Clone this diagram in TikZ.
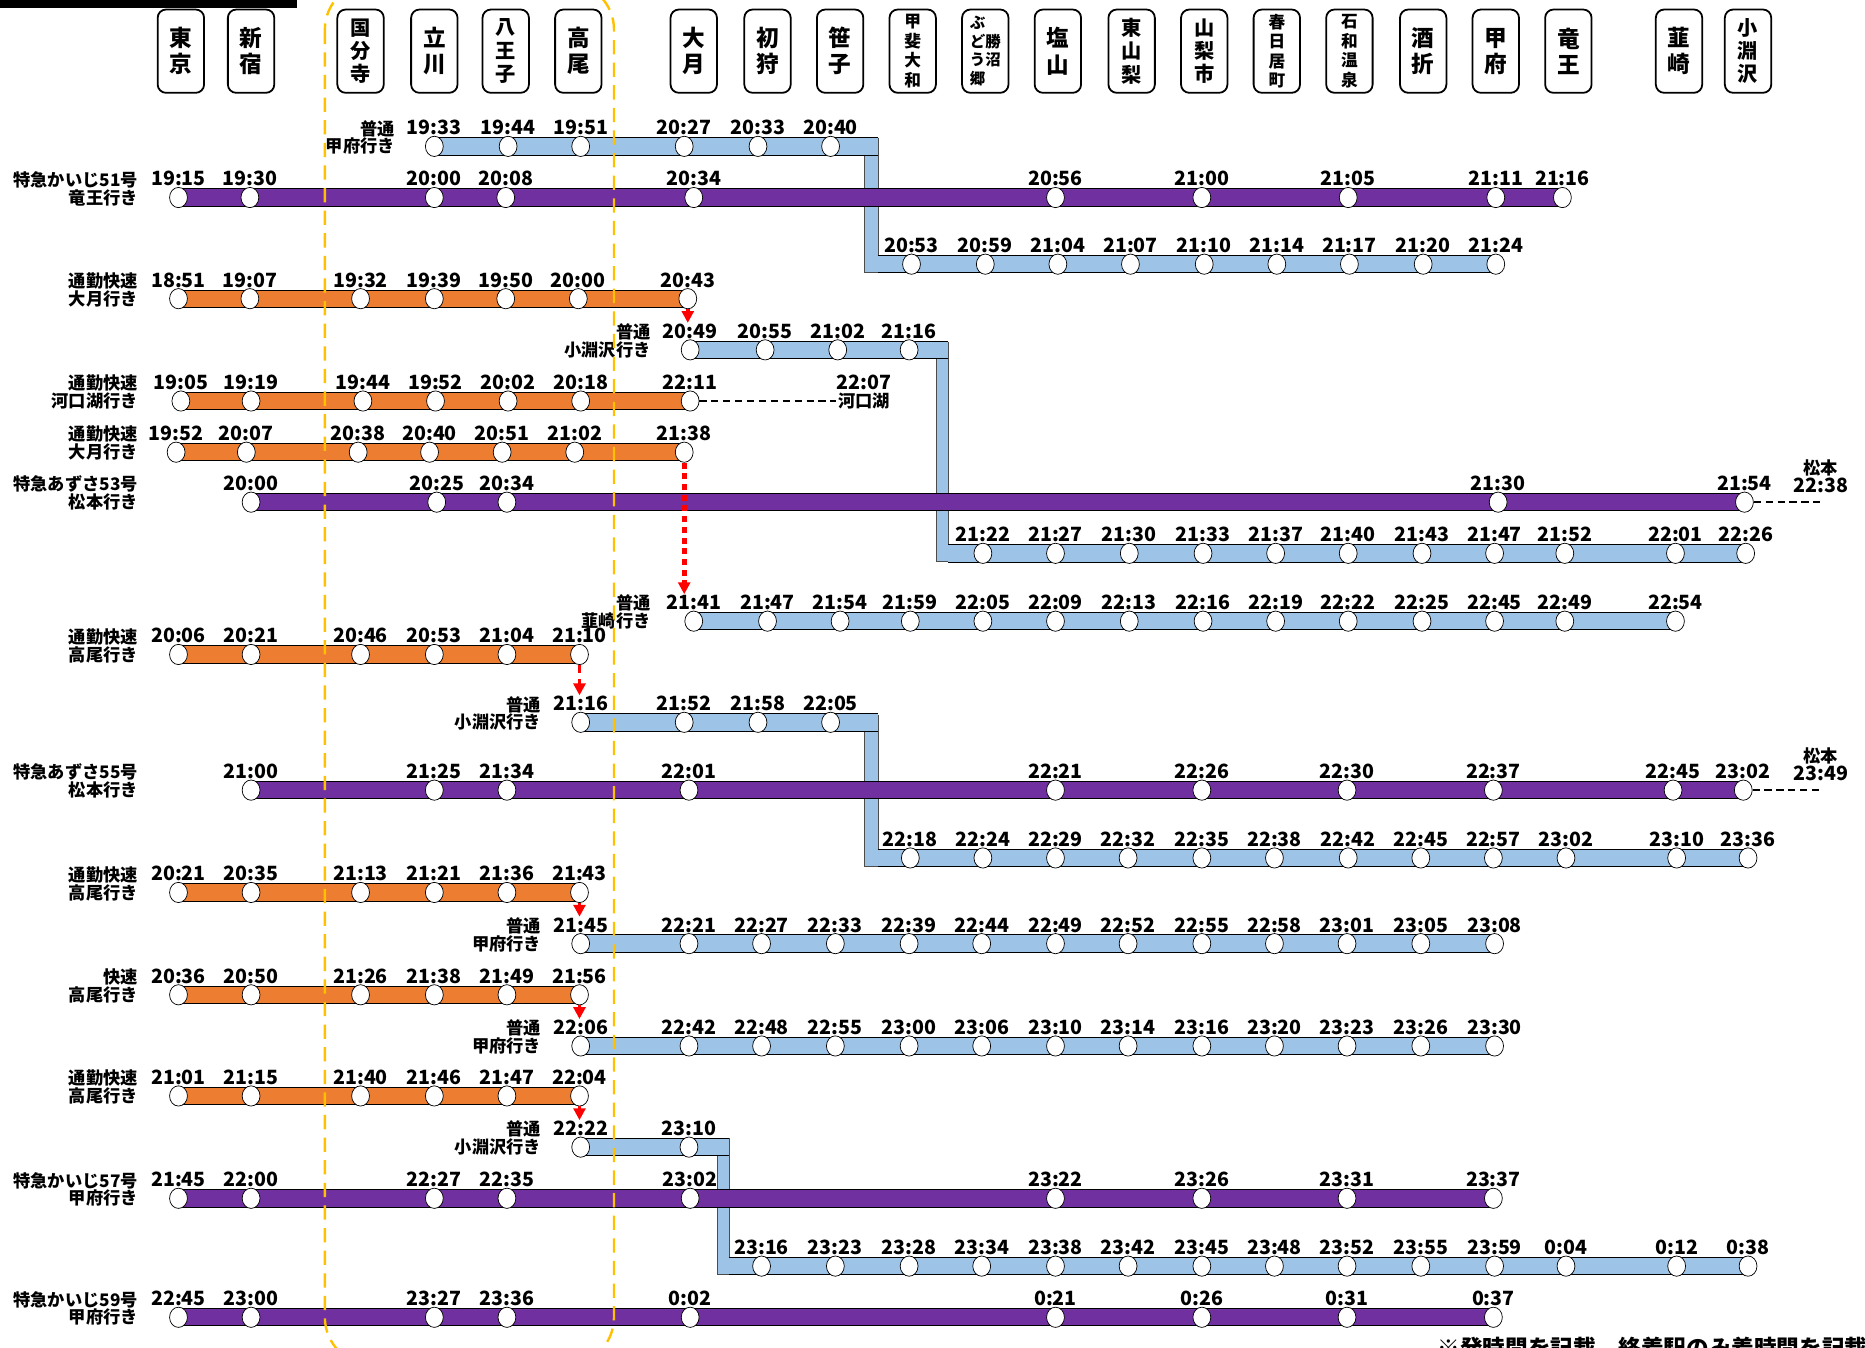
\documentclass[tikz,border=0pt]{standalone}
\usepackage{fontspec}
\setmainfont{Noto Sans CJK JP}
\usetikzlibrary{shapes.geometric,arrows.meta,backgrounds}
\definecolor{kaiji}{HTML}{7030A0}
\definecolor{rapid}{HTML}{ED7D31}
\definecolor{local}{HTML}{9DC3E6}
\definecolor{area}{HTML}{FFC000}
\tikzset{
  stop/.style={ellipse,draw=black,fill=white,line width=0.6pt,
    minimum width=15pt,minimum height=17pt,inner sep=0pt,label distance=-1.5pt},
  timelbl/.style={font=\bfseries\fontsize{16.5}{15}\selectfont,inner sep=0.5pt},
  trainlbl/.style={font=\bfseries\fontsize{14.5}{15}\selectfont,align=right,
    anchor=east,inner sep=0pt},
  stnbox/.style={draw,line width=1.5pt,rounded corners=7pt,minimum width=39pt,
    minimum height=70pt,inner sep=0pt,align=center},
  baredge/.style={black,line width=0.8pt},
  link/.style={fill=local,draw=black!70,line width=0.6pt},
  hop/.style={red,line width=3pt,-{Triangle[width=10pt,length=10pt]}},
  thru/.style={black,line width=1.2pt,dash pattern=on 6pt off 4pt},
}
% #1 row, #2 y, #3 colour, #4 bar from, #5 bar to, #6 stops x/time
\newcommand\trainrow[6]{
    \fill[#3] (#4,#2-7.3) rectangle (#5,#2+7.3);
    \draw[baredge] (#4,#2-7.3) -- (#5,#2-7.3) (#4,#2+7.3) -- (#5,#2+7.3);
    \foreach \x/\tm [count=\i] in {#6}
        \node[stop,label={[timelbl,name=#1-\i-t]above:\tm}] (#1-\i) at (\x,#2) {};
}
% #1 row, #2 x, #3 y, #4 text
\newcommand\trainname[4]{
    \node[trainlbl] (#1-name) at (#2,#3) {#4};
}

\begin{document}
\begin{tikzpicture}[x=1pt,y=-1pt]
    \useasboundingbox (0,0) rectangle (1567.3,1132);
    \fill[black] (0,0) rectangle (250,7);

    % stations
    \foreach \x/\s/\fs/\bs [count=\i] in {
        152/東\\京/19/22, 211/新\\宿/19/22, 303/国\\分\\寺/17/19.5,
        365/立\\川/19/22, 425/八\\王\\子/17/19.5, 486/高\\尾/19/22,
        583/大\\月/19/22, 645/初\\狩/19/22, 706/笹\\子/19/22,
        767/甲\\斐\\大\\和/14/16.5, 889/塩\\山/19/22, 951/東\\山\\梨/17/19.5,
        1012/山\\梨\\市/17/19.5, 1073/春\\日\\居\\町/14/16.5,
        1134/石\\和\\温\\泉/14/16.5, 1196/酒\\折/19/22, 1257/甲\\府/19/22,
        1318/竜\\王/19/22, 1411/韮\\崎/19/22, 1469/小\\淵\\沢/17/19.5}
        \node[stnbox,font=\bfseries\fontsize{\fs}{\bs}\selectfont] (st-\i) at (\x,43) {\s};
    \node[stnbox,font=\bfseries\fontsize{13}{15.5}\selectfont,align=left] (st-kat) at (828,43)
        {ぶ\\ど勝\\う沼\\郷};

    % trains
    \trainname{a}{332}{115.5}{普通\\甲府行き}
    \trainrow{a}{123}{local}{365}{738}{365/19:33,427/19:44,488/19:51,575/20:27,637/20:33,698/20:40}
    \trainname{b}{116}{158.5}{特急かいじ51号\\竜王行き}
    \trainrow{b}{166}{kaiji}{150}{1313}{150/19:15,210/19:30,365/20:00,425/20:08,583/20:34,887/20:56,1010/21:00,1133/21:05,1257/21:11,1313/21:16}
    \trainrow{c}{222}{local}{738}{1257}{766/20:53,828/20:59,889/21:04,950/21:07,1012/21:10,1073/21:14,1134/21:17,1196/21:20,1257/21:24}
    \trainname{d}{116}{243.5}{通勤快速\\大月行き}
    \trainrow{d}{251}{rapid}{150}{578}{150/18:51,210/19:07,303/19:32,365/19:39,425/19:50,486/20:00,578/20:43}
    \trainname{e}{547}{286.5}{普通\\小淵沢行き}
    \trainrow{e}{294}{local}{580}{797}{580/20:49,643/20:55,704/21:02,764/21:16}
    \trainname{f}{116}{329.5}{通勤快速\\河口湖行き}
    \trainrow{f}{337}{rapid}{152}{580}{152/19:05,211/19:19,305/19:44,366/19:52,427/20:02,488/20:18,580/22:11}
    \trainname{g}{116}{372.5}{通勤快速\\大月行き}
    \trainrow{g}{380}{rapid}{148}{575}{148/19:52,207/20:07,301/20:38,361/20:40,422/20:51,483/21:02,575/21:38}
    \trainname{h}{116}{414.5}{特急あずさ53号\\松本行き}
    \trainrow{h}{422}{kaiji}{211}{1466}{211/20:00,367/20:25,426/20:34,1259/21:30,1466/21:54}
    \trainrow{i}{465}{local}{797}{1467}{826/21:22,887/21:27,949/21:30,1011/21:33,1072/21:37,1133/21:40,1195/21:43,1256/21:47,1315/21:52,1408/22:01,1467/22:26}
    \trainname{j}{547}{514.5}{普通\\韮崎行き}
    \trainrow{j}{522}{local}{583}{1408}{583/21:41,645/21:47,706/21:54,765/21:59,826/22:05,887/22:09,949/22:13,1011/22:16,1072/22:19,1133/22:22,1195/22:25,1256/22:45,1315/22:49,1408/22:54}
    \trainname{k}{116}{542.5}{通勤快速\\高尾行き}
    \trainrow{k}{550}{rapid}{150}{487}{150/20:06,211/20:21,303/20:46,365/20:53,426/21:04,487/21:10}
    \trainname{l}{455}{599.5}{普通\\小淵沢行き}
    \trainrow{l}{607}{local}{488}{738}{488/21:16,575/21:52,637/21:58,698/22:05}
    \trainname{m}{116}{656.5}{特急あずさ55号\\松本行き}
    \trainrow{m}{664}{kaiji}{211}{1465}{211/21:00,365/21:25,426/21:34,579/22:01,887/22:21,1010/22:26,1132/22:30,1255/22:37,1406/22:45,1465/23:02}
    \trainrow{n}{721}{local}{738}{1469}{765/22:18,826/22:24,887/22:29,948/22:32,1010/22:35,1071/22:38,1133/22:42,1194/22:45,1255/22:57,1316/23:02,1409/23:10,1469/23:36}
    \trainname{o}{116}{742.5}{通勤快速\\高尾行き}
    \trainrow{o}{750}{rapid}{150}{487}{150/20:21,211/20:35,303/21:13,365/21:21,426/21:36,487/21:43}
    \trainname{p}{455}{785.5}{普通\\甲府行き}
    \trainrow{p}{793}{local}{488}{1256}{488/21:45,579/22:21,640/22:27,702/22:33,764/22:39,825/22:44,887/22:49,948/22:52,1010/22:55,1071/22:58,1132/23:01,1194/23:05,1256/23:08}
    \trainname{q}{116}{828.5}{快速\\高尾行き}
    \trainrow{q}{836}{rapid}{150}{487}{150/20:36,211/20:50,303/21:26,365/21:38,426/21:49,487/21:56}
    \trainname{r}{455}{871.5}{普通\\甲府行き}
    \trainrow{r}{879}{local}{488}{1256}{488/22:06,579/22:42,640/22:48,702/22:55,764/23:00,825/23:06,887/23:10,948/23:14,1010/23:16,1071/23:20,1132/23:23,1194/23:26,1256/23:30}
    \trainname{s}{116}{913.5}{通勤快速\\高尾行き}
    \trainrow{s}{921}{rapid}{150}{487}{150/21:01,211/21:15,303/21:40,365/21:46,426/21:47,487/22:04}
    \trainname{t}{455}{956.5}{普通\\小淵沢行き}
    \trainrow{t}{964}{local}{488}{613}{488/22:22,579/23:10}
    \trainname{u}{116}{999.5}{特急かいじ57号\\甲府行き}
    \trainrow{u}{1007}{kaiji}{150}{1255}{150/21:45,211/22:00,365/22:27,426/22:35,580/23:02,887/23:22,1010/23:26,1132/23:31,1255/23:37}
    \trainrow{v}{1064}{local}{613}{1469}{640/23:16,702/23:23,764/23:28,825/23:34,887/23:38,948/23:42,1010/23:45,1071/23:48,1132/23:52,1194/23:55,1256/23:59,1316/0:04,1409/0:12,1469/0:38}
    \trainname{w}{116}{1099.5}{特急かいじ59号\\甲府行き}
    \trainrow{w}{1107}{kaiji}{150}{1255}{150/22:45,211/23:00,365/23:27,426/23:36,580/0:02,887/0:21,1010/0:26,1132/0:31,1255/0:37}

    % splitting trains
    \begin{scope}[on background layer]
        \filldraw[link] (726,116) rectangle (738,229);
        \filldraw[link] (787,288) rectangle (797,472);
        \filldraw[link] (726,601) rectangle (738,728);
        \filldraw[link] (603,957) rectangle (613,1071);
    \end{scope}

    % through running
    \node[timelbl,align=center] (kawa) at (726,329.5) {22:07\\\fontsize{14.5}{15}\selectfont 河口湖};
    \draw[thru] (f-7.east) -- (f-7.east -| kawa.west);
    \node[timelbl,align=center] (mat53) at (1530,400.5) {\fontsize{14.5}{15}\selectfont 松本\\22:38};
    \draw[thru] (h-5.east) -- (h-5.east -| mat53.center);
    \node[timelbl,align=center] (mat55) at (1530,642.5) {\fontsize{14.5}{15}\selectfont 松本\\23:49};
    \draw[thru] (m-10.east) -- (m-10.east -| mat55.center);

    % connections
    \draw[hop] (d-7.south) -- (d-7.south |- e-1-t.north);
    \draw[hop,line width=4pt,dash pattern=on 5pt off 4pt] (g-7.south) -- (g-7.south |- j-1-t.north);
    \draw[hop,dash pattern=on 7pt off 5pt] (k-6.south) -- (k-6.south |- l-1-t.north);
    \draw[hop] (o-6.south) -- (o-6.south |- p-1-t.north);
    \draw[hop] (q-6.south) -- (q-6.south |- r-1-t.north);
    \draw[hop] (s-6.south) -- (s-6.south |- t-1-t.north);

    % area
    \draw[area,line width=2pt,dash pattern=on 12pt off 7pt,rounded corners=40pt]
        (273,-15) rectangle (516,1147);

    \node[font=\bfseries\fontsize{19}{19}\selectfont,anchor=west,inner sep=0pt] (note) at (1208,1133)
        {※発時間を記載、終着駅のみ着時間を記載};
\end{tikzpicture}
\end{document}
